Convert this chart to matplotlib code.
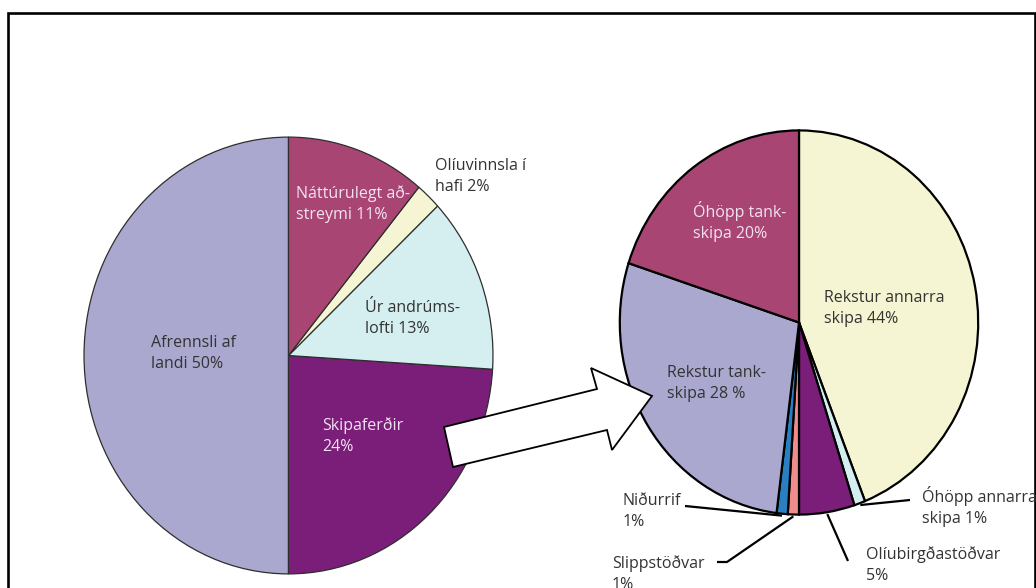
import numpy as np
import matplotlib
matplotlib.use("Agg")
import matplotlib.pyplot as plt
from matplotlib.patches import Polygon

plt.rcParams['font.family'] = ['Open Sans', 'DejaVu Sans']

### data
# left pie: sources of oil in the sea
left_labels = ["Afrennsli af\nlandi 50%", "Skipaferðir\n24%", "Úr andrúms-\nlofti 13%",
               "Olíuvinnsla í\nhafi 2%", "Náttúrulegt að-\nstreymi 11%"]
left_values = [50, 24, 13, 2, 11]
left_colors = ["#aba8d0", "#7b1e79", "#d5eff0", "#f5f5d3", "#a94572"]

# right pie: breakdown of the shipping part
right_labels = ["Rekstur annarra\nskipa 44%", "Óhöpp annarra\nskipa 1%", "Olíubirgðastöðvar\n5%",
                "Slippstöðvar\n1%", "Niðurrif\n1%", "Rekstur tank-\nskipa 28 %", "Óhöpp tank-\nskipa 20%"]
right_values = [44, 1, 5, 1, 1, 28, 20]
right_colors = ["#f5f5d3", "#d5eff0", "#7b1e79", "#f08c8c", "#2a7fc0", "#aba8d0", "#a94572"]

W, H = 1036, 588
dark = "#333333"
light = "#f2e2f0"
pitch = 21  # px between label lines

fig = plt.figure(figsize=(W / 100, H / 100), dpi=100)


def box(cx, cy, rx, ry):
    # axes rect (figure fraction) around an ellipse given in pixels
    return [(cx - rx) / W, (H - cy - ry) / H, 2 * rx / W, 2 * ry / H]


# pie geometry in pixels (centre x, centre y, radius x, radius y)
L = (288.5, 355.5, 205.5, 219.5)
R = (799.0, 322.5, 181.0, 194.0)

axL = fig.add_axes(box(*L))
wL, _ = axL.pie(left_values, colors=left_colors, startangle=90, counterclock=True,
                radius=1, wedgeprops=dict(edgecolor="#2e2e2e", linewidth=0.9))
axL.set_aspect("auto")
axL.set_xlim(-1.005, 1.005)
axL.set_ylim(-1.005, 1.005)

axR = fig.add_axes(box(*R))
wR, _ = axR.pie(right_values, colors=right_colors, startangle=90, counterclock=False,
                radius=1, wedgeprops=dict(edgecolor="black", linewidth=1.6))
axR.set_aspect("auto")
axR.set_xlim(-1.01, 1.01)
axR.set_ylim(-1.01, 1.01)

# overlay in pixel coordinates for frame, arrow, labels and leader lines
ov = fig.add_axes([0, 0, 1, 1])
ov.set_xlim(0, W)
ov.set_ylim(H, 0)
ov.axis("off")

# frame
ov.plot([8, 8, 1035, 1035], [H + 5, 13, 13, H + 5], color="black", lw=1.9, solid_joinstyle="miter")

# block arrow from left pie to right pie
arrow = Polygon([(444, 427), (597, 389), (591, 368), (652, 396), (612, 450), (607, 430), (453, 467)],
                closed=True, facecolor="white", edgecolor="black", lw=1.3, zorder=5)
ov.add_patch(arrow)


def edge_point(pie, wedge):
    # point on the rim at the middle angle of a wedge, in pixels
    cx, cy, rx, ry = pie
    a = np.deg2rad((wedge.theta1 + wedge.theta2) / 2)
    return cx + rx * np.cos(a), cy - ry * np.sin(a)


def label(x, y, s, c):
    # y is the baseline of the first line; matplotlib anchors the last one
    y_last = y + pitch * (s.count("\n"))
    ov.text(x, y_last, s, color=c, fontsize=11.5, va="baseline", ha="left",
            linespacing=1.4, zorder=6)


# label positions (left x, first baseline) and text colours
left_pos = [(151, 347, dark), (322, 430, light), (365, 312, dark), (435, 170, dark), (296, 198, light)]
right_pos = [(824, 302, dark), (922, 502, dark), (866, 559, dark), (612, 568, dark),
             (623, 505, dark), (667, 377, dark), (693, 217, light)]

for lab, (x, y, c) in zip(left_labels, left_pos):
    label(x, y, lab, c)
for lab, (x, y, c) in zip(right_labels, right_pos):
    label(x, y, lab, c)

# leader lines for the small slices
leaders = {1: [(910, 500)], 2: [(848, 561)], 3: [(727, 562), (717, 562)], 4: [(685, 506)]}
for i, pts in leaders.items():
    x0, y0 = edge_point(R, wR[i])
    xs = [x0] + [p[0] for p in pts]
    ys = [y0] + [p[1] for p in pts]
    ov.plot(xs, ys, color="black", lw=1.6, zorder=4, solid_capstyle="butt")

fig.savefig("out.png", dpi=100)
